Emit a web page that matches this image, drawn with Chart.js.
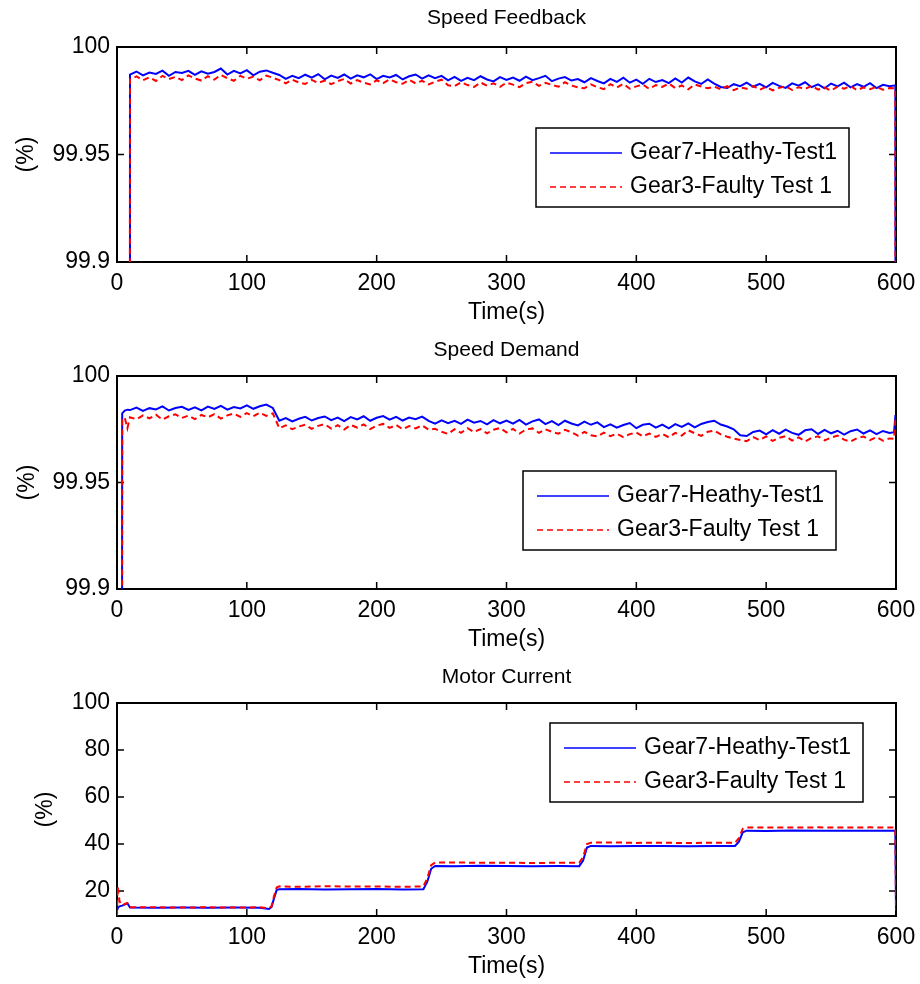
<!DOCTYPE html>
<html>
<head>
<meta charset="utf-8">
<title>Speed Feedback / Speed Demand / Motor Current</title>
<script src="https://cdn.jsdelivr.net/npm/chart.js@4.4.1/dist/chart.umd.min.js"></script>
<style>
  body { margin: 0; background: #fff; }
  canvas { position: absolute; left: 0; }
</style>
</head>
<body>
<canvas id="feedback" width="920" height="326" style="top:0px"></canvas>
<canvas id="demand" width="920" height="323" style="top:330px"></canvas>
<canvas id="current" width="920" height="324" style="top:656px"></canvas>
<script>
// series names and ticks
const seriesNames = ["Gear7-Heathy-Test1", "Gear3-Faulty Test 1"];
const timeTicks = [0, 100, 200, 300, 400, 500, 600];
const speedTicks = [99.9, 99.95, 100];
const currentTicks = [20, 40, 60, 80, 100];

// Speed Feedback (%)
const feedbackTime = [0, 9.5,
  10, 15, 20, 25, 30, 35, 40, 45, 50, 55,
  60, 65, 70, 75, 80, 85, 90, 95, 100, 105,
  110, 115, 120, 125, 130, 135, 140, 145, 150, 155,
  160, 165, 170, 175, 180, 185, 190, 195, 200, 205,
  210, 215, 220, 225, 230, 235, 240, 245, 250, 255,
  260, 265, 270, 275, 280, 285, 290, 295, 300, 305,
  310, 315, 320, 325, 330, 335, 340, 345, 350, 355,
  360, 365, 370, 375, 380, 385, 390, 395, 400, 405,
  410, 415, 420, 425, 430, 435, 440, 445, 450, 455,
  460, 465, 470, 475, 480, 485, 490, 495, 500, 505,
  510, 515, 520, 525, 530, 535, 540, 545, 550, 555,
  560, 565, 570, 575, 580, 585, 590, 595,
  599.5, 600];
const feedbackHealthy = [99.5, 99.5,
  99.9872, 99.9886, 99.9868, 99.9881, 99.9875, 99.9890, 99.9866, 99.9884, 99.9879, 99.9889,
  99.9870, 99.9887, 99.9876, 99.9884, 99.9900, 99.9872, 99.9889, 99.9877, 99.9892, 99.9868,
  99.9885, 99.9891, 99.9880, 99.9870, 99.9852, 99.9866, 99.9855, 99.9871, 99.9857, 99.9874,
  99.9850, 99.9867, 99.9856, 99.9872, 99.9853, 99.9868, 99.9859, 99.9873, 99.9851, 99.9866,
  99.9858, 99.9870, 99.9849, 99.9864, 99.9872, 99.9853, 99.9868, 99.9855, 99.9866, 99.9845,
  99.9861, 99.9842, 99.9857, 99.9846, 99.9864, 99.9849, 99.9840, 99.9860, 99.9847, 99.9858,
  99.9843, 99.9862, 99.9846, 99.9855, 99.9866, 99.9841, 99.9853, 99.9860, 99.9844, 99.9851,
  99.9836, 99.9855, 99.9842, 99.9831, 99.9852, 99.9838, 99.9857, 99.9834, 99.9848, 99.9829,
  99.9852, 99.9837, 99.9846, 99.9832, 99.9854, 99.9835, 99.9858, 99.9840, 99.9828, 99.9849,
  99.9830, 99.9814, 99.9809, 99.9827, 99.9818, 99.9834, 99.9815, 99.9829, 99.9812, 99.9833,
  99.9819, 99.9810, 99.9831, 99.9820, 99.9836, 99.9813, 99.9826, 99.9808, 99.9830, 99.9817,
  99.9834, 99.9812, 99.9827, 99.9815, 99.9832, 99.9809, 99.9824, 99.9818,
  99.9822, 99.5];
const feedbackFaulty = [99.5, 99.5,
  99.9850, 99.9863, 99.9845, 99.9859, 99.9842, 99.9866, 99.9851, 99.9861, 99.9846, 99.9868,
  99.9853, 99.9844, 99.9864, 99.9848, 99.9870, 99.9855, 99.9843, 99.9866, 99.9852, 99.9862,
  99.9845, 99.9867, 99.9857, 99.9846, 99.9831, 99.9848, 99.9835, 99.9828, 99.9847, 99.9833,
  99.9844, 99.9827, 99.9841, 99.9851, 99.9830, 99.9846, 99.9834, 99.9826, 99.9845, 99.9832,
  99.9849, 99.9836, 99.9829, 99.9847, 99.9831, 99.9843, 99.9826, 99.9838, 99.9848, 99.9822,
  99.9818, 99.9836, 99.9823, 99.9814, 99.9835, 99.9820, 99.9831, 99.9815, 99.9834, 99.9825,
  99.9813, 99.9832, 99.9838, 99.9819, 99.9833, 99.9824, 99.9815, 99.9836, 99.9821, 99.9812,
  99.9808, 99.9826, 99.9813, 99.9804, 99.9827, 99.9812, 99.9829, 99.9806, 99.9817, 99.9825,
  99.9805, 99.9823, 99.9814, 99.9830, 99.9809, 99.9821, 99.9803, 99.9826, 99.9816, 99.9808,
  99.9816, 99.9803, 99.9818, 99.9799, 99.9812, 99.9806, 99.9819, 99.9801, 99.9815, 99.9798,
  99.9810, 99.9817, 99.9800, 99.9813, 99.9805, 99.9820, 99.9802, 99.9811, 99.9797, 99.9816,
  99.9806, 99.9818, 99.9799, 99.9812, 99.9804, 99.9815, 99.9801, 99.9809,
  99.9808, 99.5];

// Speed Demand (%)
const demandTime = [0, 3.5, 4, 6, 8,
  10, 15, 20, 25, 30, 35, 40, 45, 50, 55,
  60, 65, 70, 75, 80, 85, 90, 95, 100, 105,
  110, 115, 120, 125, 130, 135, 140, 145, 150, 155,
  160, 165, 170, 175, 180, 185, 190, 195, 200, 205,
  210, 215, 220, 225, 230, 235, 240, 245, 250, 255,
  260, 265, 270, 275, 280, 285, 290, 295, 300, 305,
  310, 315, 320, 325, 330, 335, 340, 345, 350, 355,
  360, 365, 370, 375, 380, 385, 390, 395, 400, 405,
  410, 415, 420, 425, 430, 435, 440, 445, 450, 455,
  460, 465, 470, 475, 480, 485, 490, 495, 500, 505,
  510, 515, 520, 525, 530, 535, 540, 545, 550, 555,
  560, 565, 570, 575, 580, 585, 590, 595,
  598.5, 599.5, 600];
const demandHealthy = [99.5, 99.5, 99.9825, 99.9838, 99.9842,
  99.9840, 99.9852, 99.9836, 99.9849, 99.9843, 99.9857, 99.9838, 99.9850, 99.9855, 99.9841,
  99.9853, 99.9839, 99.9856, 99.9845, 99.9860, 99.9842, 99.9854, 99.9848, 99.9862, 99.9846,
  99.9858, 99.9866, 99.9850, 99.9790, 99.9802, 99.9787, 99.9799, 99.9808, 99.9791, 99.9803,
  99.9810, 99.9793, 99.9805, 99.9788, 99.9807, 99.9796, 99.9811, 99.9790, 99.9804, 99.9812,
  99.9795, 99.9808, 99.9791, 99.9805, 99.9797, 99.9809, 99.9789, 99.9776, 99.9792, 99.9779,
  99.9790, 99.9775, 99.9795, 99.9781, 99.9789, 99.9773, 99.9793, 99.9778, 99.9791, 99.9776,
  99.9794, 99.9772, 99.9787, 99.9796, 99.9774, 99.9788, 99.9770, 99.9790, 99.9777, 99.9768,
  99.9786, 99.9771, 99.9782, 99.9760, 99.9773, 99.9757, 99.9770, 99.9779, 99.9755, 99.9771,
  99.9776, 99.9758, 99.9772, 99.9754, 99.9774, 99.9761, 99.9778, 99.9759, 99.9775, 99.9784,
  99.9790, 99.9772, 99.9763, 99.9750, 99.9722, 99.9718, 99.9737, 99.9744, 99.9726, 99.9746,
  99.9729, 99.9748, 99.9733, 99.9724, 99.9745, 99.9750, 99.9728, 99.9747, 99.9731, 99.9743,
  99.9725, 99.9741, 99.9749, 99.9730, 99.9745, 99.9727, 99.9742, 99.9733,
  99.9736, 99.9812, 99.9812];
const demandFaulty = [99.5, 99.5, 99.9798, 99.9804, 99.9755,
  99.9806, 99.9797, 99.9815, 99.9801, 99.9818, 99.9795, 99.9811, 99.9820, 99.9803, 99.9814,
  99.9798, 99.9817, 99.9806, 99.9821, 99.9800, 99.9815, 99.9824, 99.9808, 99.9826, 99.9811,
  99.9828, 99.9813, 99.9825, 99.9755, 99.9768, 99.9750, 99.9763, 99.9771, 99.9752, 99.9766,
  99.9774, 99.9753, 99.9769, 99.9749, 99.9770, 99.9758, 99.9773, 99.9751, 99.9767, 99.9775,
  99.9756, 99.9770, 99.9750, 99.9765, 99.9754, 99.9768, 99.9748, 99.9752, 99.9738, 99.9728,
  99.9750, 99.9733, 99.9755, 99.9737, 99.9751, 99.9731, 99.9748, 99.9756, 99.9735, 99.9752,
  99.9730, 99.9749, 99.9754, 99.9733, 99.9750, 99.9738, 99.9729, 99.9747, 99.9736, 99.9720,
  99.9738, 99.9722, 99.9716, 99.9734, 99.9718, 99.9729, 99.9713, 99.9727, 99.9735, 99.9717,
  99.9730, 99.9714, 99.9728, 99.9712, 99.9733, 99.9720, 99.9745, 99.9731, 99.9719, 99.9738,
  99.9744, 99.9726, 99.9715, 99.9706, 99.9700, 99.9694, 99.9713, 99.9699, 99.9716, 99.9695,
  99.9710, 99.9718, 99.9697, 99.9712, 99.9693, 99.9709, 99.9717, 99.9698, 99.9711, 99.9720,
  99.9701, 99.9692, 99.9708, 99.9716, 99.9699, 99.9713, 99.9696, 99.9707,
  99.9705, 99.9790, 99.9790];

// Motor Current (%)
const currentTime = [0, 0.5, 2, 4, 6, 8, 10, 30, 50, 70, 90, 110,
  117, 119, 121, 123, 125, 140, 160, 180, 200, 220,
  236, 239, 242, 245, 260, 280, 300, 320, 340,
  356, 359, 362, 365, 380, 400, 420, 440, 460,
  476, 479, 482, 485, 500, 520, 540, 560, 580, 598, 599.5, 600];
const currentHealthy = [12.5, 12.8, 13.5, 13.8, 14.3, 14.8, 13.0, 12.9, 13.0, 12.9, 13.0, 12.9,
  12.4, 13.2, 17.0, 20.5, 20.8, 20.9, 20.7, 20.8, 20.9, 20.7,
  20.8, 24.0, 29.5, 30.7, 30.6, 30.8, 30.7, 30.6, 30.7,
  30.6, 33.0, 38.5, 39.2, 39.1, 39.2, 39.2, 39.1, 39.2,
  39.2, 41.0, 45.0, 45.7, 45.6, 45.8, 45.7, 45.7, 45.7, 45.7, 45.7, 11.5];
const currentFaulty = [9.5, 21.9, 15.5, 13.8, 14.5, 14.9, 13.1, 13.1, 13.0, 13.1, 13.0, 13.1,
  12.6, 13.5, 18.0, 21.5, 22.0, 21.8, 22.1, 21.9, 22.0, 21.8,
  22.0, 25.5, 31.0, 32.1, 32.2, 32.0, 32.1, 31.9, 32.1,
  32.0, 34.5, 40.0, 40.6, 40.7, 40.5, 40.6, 40.4, 40.6,
  40.5, 42.5, 46.5, 47.0, 47.1, 47.0, 47.1, 47.0, 47.1, 47.0, 47.0, 12.0];

const FONT = '"Liberation Sans", Arial, sans-serif';

function pair(xs, ys) {
  return xs.map((x, i) => ({ x: x, y: ys[i] }));
}

// title centred over the plot box, MATLAB style box with inward ticks
const boxAxes = {
  id: 'boxAxes',
  beforeDatasetsDraw(chart, args, opts) {
    const { ctx, chartArea: a, scales } = chart;
    const len = 7;
    ctx.save();
    ctx.fillStyle = '#000';
    ctx.font = '21px ' + FONT;
    ctx.textAlign = 'center';
    ctx.textBaseline = 'middle';
    ctx.fillText(opts.title, (a.left + a.right) / 2, a.top - opts.titleGap);

    ctx.strokeStyle = '#000';
    ctx.lineWidth = 1.5;
    ctx.beginPath();
    scales.x.ticks.forEach(t => {
      const px = scales.x.getPixelForValue(t.value);
      ctx.moveTo(px, a.bottom); ctx.lineTo(px, a.bottom - len);
      ctx.moveTo(px, a.top); ctx.lineTo(px, a.top + len);
    });
    scales.y.ticks.forEach(t => {
      const py = scales.y.getPixelForValue(t.value);
      ctx.moveTo(a.left, py); ctx.lineTo(a.left + len, py);
      ctx.moveTo(a.right, py); ctx.lineTo(a.right - len, py);
    });
    ctx.stroke();
    ctx.lineWidth = 2;
    ctx.strokeRect(a.left, a.top, a.right - a.left, a.bottom - a.top);
    ctx.restore();
  }
};

// boxed legend inside the plot area
const boxLegend = {
  id: 'boxLegend',
  afterDraw(chart, args, opts) {
    const { ctx, chartArea: a } = chart;
    const w = 313, h = 79;
    const left = a.right - opts.right - w;
    const top = a.top + opts.top;
    ctx.save();
    ctx.fillStyle = '#fff';
    ctx.fillRect(left, top, w, h);
    ctx.strokeStyle = '#000';
    ctx.lineWidth = 1.5;
    ctx.strokeRect(left, top, w, h);
    ctx.font = '23px ' + FONT;
    ctx.textBaseline = 'middle';
    chart.data.datasets.forEach((ds, i) => {
      const y = top + 25 + i * 34;
      ctx.strokeStyle = ds.borderColor;
      ctx.lineWidth = 1.5;
      ctx.setLineDash(ds.borderDash || []);
      ctx.beginPath();
      ctx.moveTo(left + 14, y);
      ctx.lineTo(left + 86, y);
      ctx.stroke();
      ctx.setLineDash([]);
      ctx.fillStyle = '#000';
      ctx.fillText(ds.label, left + 94, y);
    });
    ctx.restore();
  }
};

function panel(id, p) {
  const tickFont = { family: FONT, size: 23 };
  return new Chart(document.getElementById(id), {
    type: 'line',
    data: {
      datasets: [
        { label: seriesNames[0], data: pair(p.time, p.healthy), borderColor: 'rgb(0,0,255)',
          borderWidth: 2, order: 1 },
        { label: seriesNames[1], data: pair(p.time, p.faulty), borderColor: 'rgb(255,0,0)',
          borderWidth: 2, borderDash: [6, 4], order: 0 }
      ]
    },
    options: {
      responsive: false,
      animation: false,
      devicePixelRatio: 1,
      layout: { padding: { left: 0, right: 24, top: p.padTop, bottom: 0 } },
      elements: { point: { radius: 0 }, line: { tension: 0 } },
      plugins: {
        legend: { display: false },
        tooltip: { enabled: false },
        title: { display: false },
        boxAxes: { title: p.title, titleGap: p.titleGap },
        boxLegend: p.legend
      },
      scales: {
        x: {
          type: 'linear', min: 0, max: 600,
          grid: { display: false, drawTicks: false }, border: { display: false },
          ticks: { color: '#000', font: tickFont, padding: 8,
                   maxRotation: 0, callback: v => String(v) },
          afterBuildTicks: s => { s.ticks = timeTicks.map(v => ({ value: v })); },
          afterFit: s => { s.height = 64; s.paddingLeft = 0; s.paddingRight = 0; },
          title: { display: true, text: 'Time(s)', color: '#000',
                   font: tickFont, padding: { top: 0, bottom: 0 } }
        },
        y: {
          type: 'linear', min: p.yMin, max: p.yMax,
          grid: { display: false, drawTicks: false }, border: { display: false },
          ticks: { color: '#000', font: tickFont, padding: 7,
                   callback: v => String(v) },
          afterBuildTicks: s => { s.ticks = p.yTicks.map(v => ({ value: v })); },
          afterFit: s => { s.width = 117; },
          title: { display: true, text: '(%)', color: '#000',
                   font: tickFont, padding: { top: p.yTitlePad, bottom: 0 } }
        }
      }
    },
    plugins: [boxAxes, boxLegend]
  });
}

panel('feedback', {
  title: 'Speed Feedback', padTop: 47, titleGap: 29,
  time: feedbackTime, healthy: feedbackHealthy, faulty: feedbackFaulty,
  yMin: 99.9, yMax: 100, yTicks: speedTicks, yTitlePad: 13,
  legend: { right: 47, top: 81 }
});
panel('demand', {
  title: 'Speed Demand', padTop: 46, titleGap: 26,
  time: demandTime, healthy: demandHealthy, faulty: demandFaulty,
  yMin: 99.9, yMax: 100, yTicks: speedTicks, yTitlePad: 14,
  legend: { right: 60, top: 95 }
});
panel('current', {
  title: 'Motor Current', padTop: 47, titleGap: 26,
  time: currentTime, healthy: currentHealthy, faulty: currentFaulty,
  yMin: 9.4, yMax: 100, yTicks: currentTicks, yTitlePad: 32,
  legend: { right: 33, top: 20 }
});
</script>
</body>
</html>
